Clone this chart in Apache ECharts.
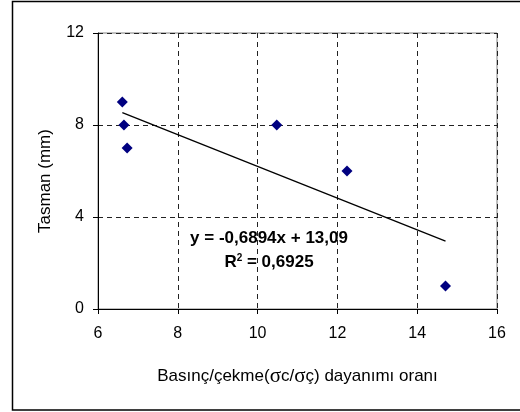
<!DOCTYPE html>
<html>
<head>
<meta charset="utf-8">
<script src="https://cdn.jsdelivr.net/npm/echarts@6/dist/echarts.min.js"></script>
<style>
	html, body { margin: 0; padding: 0; background: #fff; }
	#chart { width: 520px; height: 412px; }
</style>
</head>
<body>
<div id="chart"></div>
<script>
	// measured points (oran, tasman)
	var oranValues = [6.61, 6.65, 6.73, 10.48, 12.24, 14.71];
	var tasmanValues = [9, 8, 7, 8, 6, 1];

	// trendline end points as drawn
	var trendX = [6.61, 14.71];
	var trendY = [8.54, 2.95];

	var xTicks = [6, 8, 10, 12, 14, 16];
	var yTicks = [0, 4, 8, 12];

	var equationText = 'y = -0,6894x + 13,09';
	var r2Text = '0,6925';

	var font = '"Liberation Sans", Arial, sans-serif';

	var chart = echarts.init(document.getElementById('chart'), null, { renderer: 'canvas' });

	var points = oranValues.map(function(x, i) { return [x, tasmanValues[i]]; });
	var trend = trendX.map(function(x, i) { return [x, trendY[i]]; });

	chart.setOption({
		animation: false,
		backgroundColor: '#fff',
		grid: {
			left: 98, right: 23, top: 33, bottom: 103,
			show: true,
			borderColor: '#808080',
			borderWidth: 1
		},
		xAxis: {
			type: 'value',
			min: xTicks[0],
			max: xTicks[xTicks.length - 1],
			interval: 2,
			name: '{t|Basınç/çekme(}{g|σ}{t|c/}{g|σ}{t|ç) dayanımı oranı}',
			nameLocation: 'middle',
			nameGap: 57,
			nameTextStyle: {
				fontFamily: font, fontSize: 17, color: '#000',
				rich: {
					t: { fontFamily: font, fontSize: 17, color: '#000' },
					g: { fontFamily: '"Liberation Serif", serif', fontSize: 21, color: '#000' }
				}
			},
			axisLine: { lineStyle: { color: '#000', width: 1 } },
			axisTick: { show: true, inside: false, length: 5, lineStyle: { color: '#000' } },
			axisLabel: { fontFamily: font, fontSize: 16, color: '#000', margin: 17 },
			splitLine: { show: true, lineStyle: { color: '#222', type: [5, 4], width: 1 } }
		},
		yAxis: {
			type: 'value',
			min: yTicks[0],
			max: yTicks[yTicks.length - 1],
			interval: 4,
			axisLine: { show: true, lineStyle: { color: '#000', width: 1 } },
			axisTick: { show: true, inside: false, length: 5, lineStyle: { color: '#000' } },
			axisLabel: { fontFamily: font, fontSize: 16, color: '#000', margin: 14 },
			splitLine: { show: true, lineStyle: { color: '#222', type: [5, 4], width: 1 } }
		},
		series: [
			{
				type: 'line',
				data: trend,
				symbol: 'none',
				lineStyle: { color: '#000', width: 1.3 },
				z: 3
			},
			{
				type: 'scatter',
				data: points,
				symbol: 'diamond',
				symbolSize: [11, 11],
				itemStyle: { color: '#000080', opacity: 1 },
				z: 4
			}
		],
		graphic: [
			{
				type: 'rect',
				shape: { x: 12.5, y: 1.5, width: 520, height: 408.5 },
				style: { fill: 'none', stroke: '#000', lineWidth: 1.5 },
				silent: true
			},
			{
				type: 'text',
				x: 45, y: 181,
				rotation: Math.PI / 2,
				style: {
					text: 'Tasman (mm)',
					font: '17px ' + font,
					fill: '#000',
					align: 'center',
					verticalAlign: 'middle'
				}
			},
			{
				type: 'text',
				x: 269, y: 238,
				style: {
					text: equationText,
					font: 'bold 17px ' + font,
					fill: '#000',
					align: 'center',
					verticalAlign: 'middle'
				}
			},
			{
				type: 'text',
				x: 269, y: 262,
				style: {
					text: '{b|R}{s|2}{b| = ' + r2Text + '}',
					align: 'center',
					verticalAlign: 'middle',
					rich: {
						b: { font: 'bold 17px ' + font, fill: '#000' },
						s: { font: 'bold 10px ' + font, fill: '#000', verticalAlign: 'top', padding: [0, 0, 8, 0] }
					}
				}
			}
		]
	});
</script>
</body>
</html>
